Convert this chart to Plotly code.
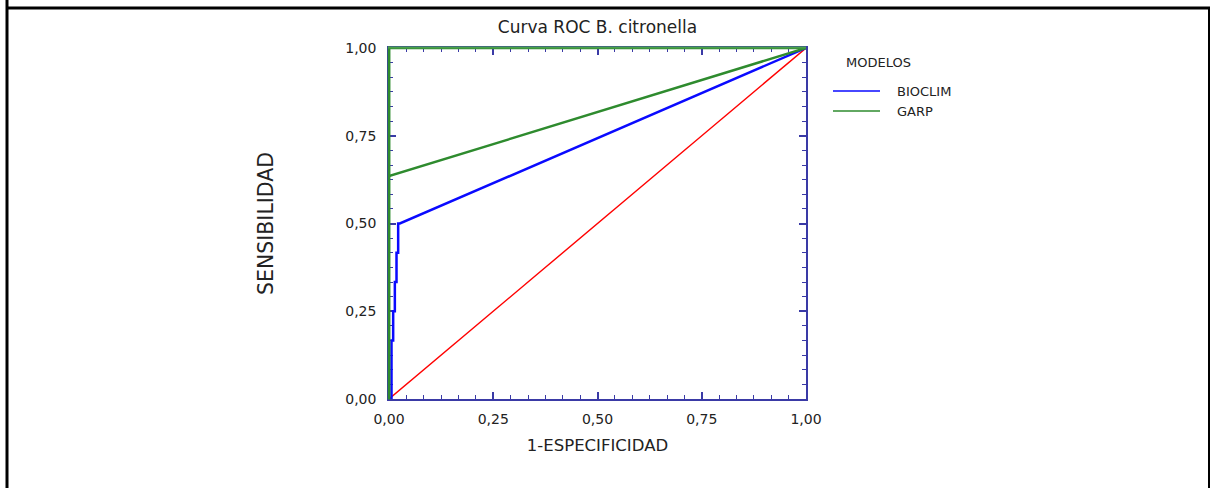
import plotly.graph_objects as go

# ---- data ----
bioclim_fpr = [0.0, 0.006, 0.006, 0.010, 0.010, 0.014, 0.014, 0.018, 0.018, 0.022, 0.022, 0.026, 1.0]
bioclim_tpr = [0.0, 0.0, 0.167, 0.167, 0.250, 0.250, 0.333, 0.333, 0.417, 0.417, 0.500, 0.500, 1.0]
garp_fpr = [0.0, 0.0, 1.0]
garp_tpr = [0.0, 0.635, 1.0]
ideal_fpr = [0.0, 0.0, 1.0]
ideal_tpr = [0.635, 1.0, 1.0]
ref_fpr = [0.0, 1.0]
ref_tpr = [0.0, 1.0]
tick_vals = [0, 0.25, 0.5, 0.75, 1.0]
legend_names = ["BIOCLIM", "GARP"]
legend_colors = ["#0a0aff", "#2e8b2e"]

FONT = "DejaVu Sans"
AXC = "#3a3aa6"
TXT = "#222222"

L, R, T, B = 389, 1210 - 806, 48, 488 - 399
PW, PH = 806 - 389, 399 - 48


def px(xp):
    return (xp - L) / PW


def py(yp):
    return (399 - yp) / PH


fig = go.Figure()
fig.add_trace(go.Scatter(x=ref_fpr, y=ref_tpr, mode="lines", line=dict(color="#ff0000", width=1.4),
                         showlegend=False, hoverinfo="skip", cliponaxis=False))
fig.add_trace(go.Scatter(x=ideal_fpr, y=ideal_tpr, mode="lines", line=dict(color=legend_colors[1], width=2.5),
                         showlegend=False, hoverinfo="skip", cliponaxis=False))
fig.add_trace(go.Scatter(x=bioclim_fpr, y=bioclim_tpr, mode="lines", name=legend_names[0],
                         line=dict(color=legend_colors[0], width=2.5), cliponaxis=False, showlegend=False))
fig.add_trace(go.Scatter(x=garp_fpr, y=garp_tpr, mode="lines", name=legend_names[1],
                         line=dict(color=legend_colors[1], width=2.5), cliponaxis=False, showlegend=False))

axis_common = dict(
    range=[0, 1], tickvals=tick_vals, tickformat=".2f",
    showline=True, linecolor=AXC, linewidth=1.5, mirror="allticks",
    ticks="inside", ticklen=7, tickwidth=1.5, tickcolor=AXC,
    minor=dict(dtick=1 / 24, tick0=0, ticks="inside", ticklen=4, tickwidth=1.2, tickcolor=AXC, showgrid=False),
    showgrid=False, zeroline=False, layer="below traces",
    tickfont=dict(family=FONT, size=14, color=TXT),
)

shapes = [
    dict(type="line", xref="paper", yref="paper", x0=px(7), x1=px(7), y0=py(0), y1=py(495),
         line=dict(color="black", width=3)),
    dict(type="line", xref="paper", yref="paper", x0=px(6), x1=px(1215), y0=py(8), y1=py(8),
         line=dict(color="black", width=3)),
    dict(type="line", xref="paper", yref="paper", x0=px(1209), x1=px(1209), y0=py(8), y1=py(495),
         line=dict(color="black", width=2)),
    # green left / top frame edges (GARP vertical at x=0 and ideal-curve top edge)
    dict(type="line", xref="paper", yref="paper", x0=0, x1=0, y0=py(399.5), y1=py(46.5),
         line=dict(color=legend_colors[1], width=2.5), layer="above"),
    dict(type="line", xref="paper", yref="paper", x0=px(388), x1=1, y0=py(47.4), y1=py(47.4),
         line=dict(color="#4aa04a", width=2), layer="above"),
]
annotations = [
    dict(text="MODELOS", xref="paper", yref="paper", x=px(844), y=py(63), xanchor="left", yanchor="middle",
         showarrow=False, font=dict(family=FONT, size=13, color=TXT)),
]
for i, (nm, col) in enumerate(zip(legend_names, legend_colors)):
    yy = 91 + 20 * i
    shapes.append(dict(type="line", xref="paper", yref="paper", x0=px(833), x1=px(880), y0=py(yy), y1=py(yy),
                       line=dict(color=col, width=1.5)))
    annotations.append(dict(text=nm, xref="paper", yref="paper", x=px(895), y=py(yy), xanchor="left",
                            yanchor="middle", showarrow=False, font=dict(family=FONT, size=13, color=TXT)))

fig.update_layout(
    width=1210, height=488,
    margin=dict(l=L, r=R, t=T, b=B),
    paper_bgcolor="white", plot_bgcolor="white",
    separators=",.",
    showlegend=False,
    title=dict(text="Curva ROC B. citronella", x=0.5, xref="paper", xanchor="center",
               y=1 - 27 / 488, yanchor="middle", font=dict(family=FONT, size=17, color=TXT)),
    xaxis=dict(**axis_common, title=dict(text="1-ESPECIFICIDAD", font=dict(family=FONT, size=16.5, color=TXT),
                                         standoff=14), ticklabelstandoff=6),
    yaxis=dict(**axis_common, title=dict(text="SENSIBILIDAD", font=dict(family=FONT, size=20.5, color=TXT),
                                         standoff=66), ticklabelstandoff=8),
    shapes=shapes,
    annotations=annotations,
)

fig.write_html("out.html")
